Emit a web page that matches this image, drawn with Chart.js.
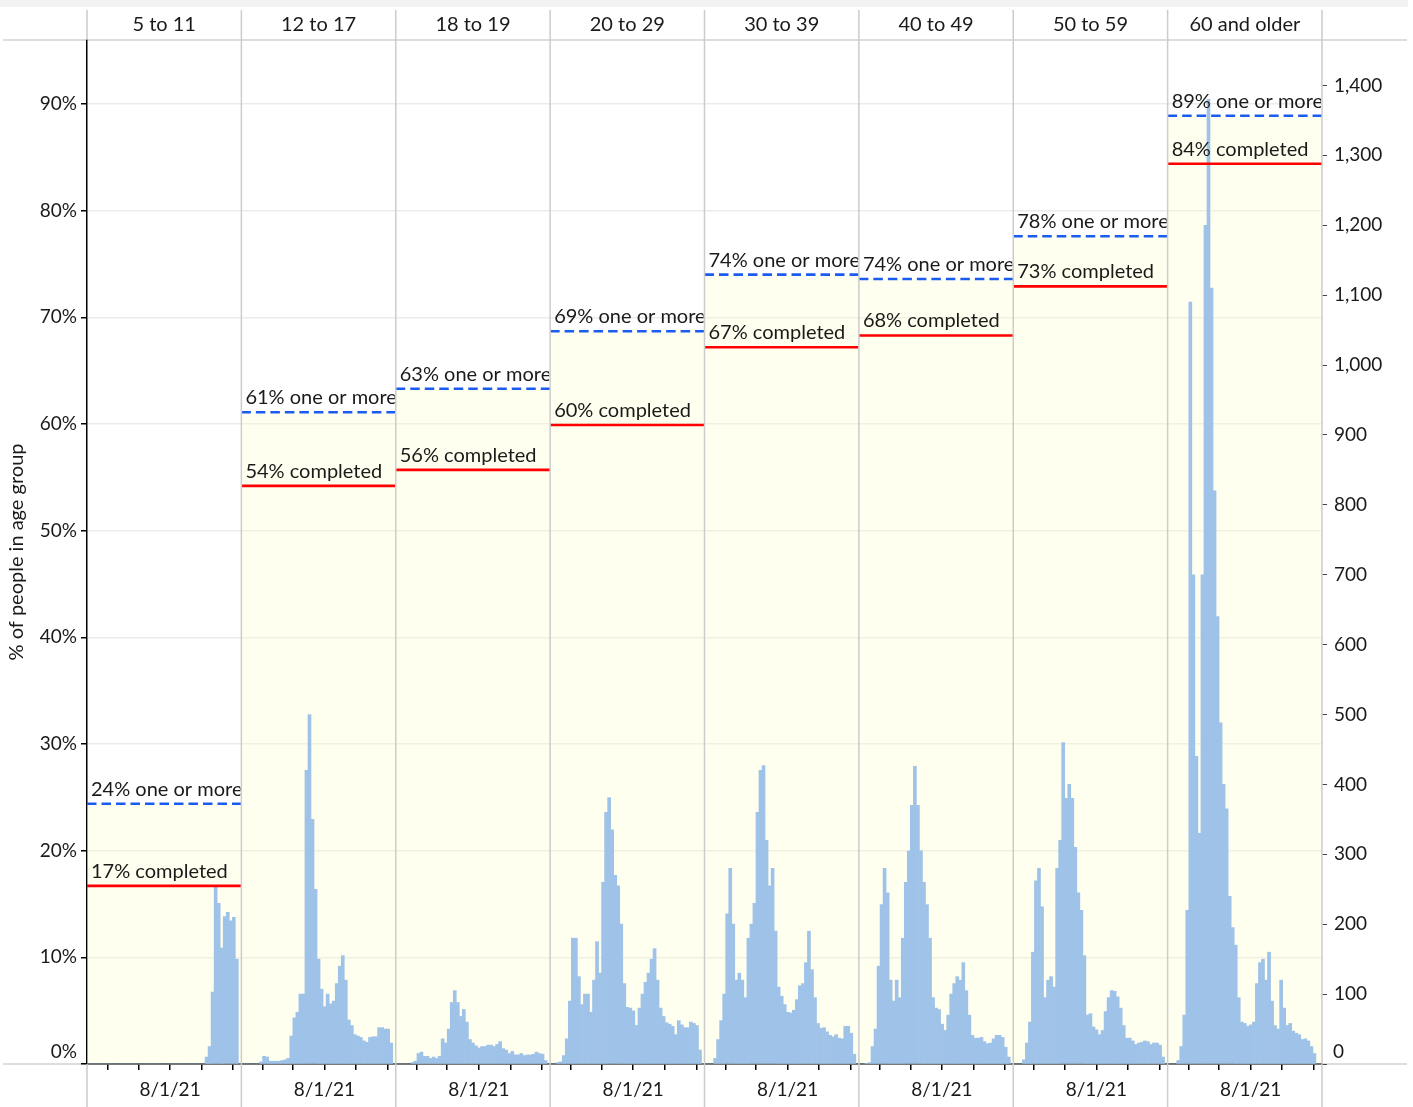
<!DOCTYPE html>
<html>
<head>
<meta charset="utf-8">
<script src="https://cdn.jsdelivr.net/npm/chart.js@4.4.1/dist/chart.umd.min.js"></script>
<style>
  html, body { margin: 0; padding: 0; background: #fff; }
</style>
</head>
<body>
<canvas id="vaxChart" width="1413" height="1107"></canvas>
<script>
const ageGroups = ['5 to 11', '12 to 17', '18 to 19', '20 to 29', '30 to 39', '40 to 49', '50 to 59', '60 and older'];
const oneOrMore = [24.4, 61.1, 63.3, 68.7, 74.0, 73.6, 77.6, 88.9];
const completed = [16.7, 54.2, 55.7, 59.9, 67.2, 68.3, 72.9, 84.4];

const doses5to11 = [0,0,0,0,0,0,0,0,0,0, 0,0,0,0,0,0,0,0,0,0, 0,0,0,0,0,0,0,0,0,0, 0,0,0,0,0,0,0,0,0,10, 25,103,255,230,166,211,217,205,210,150, 0];
const doses12to17 = [0,0,0,0,0,0,3,11,10,4, 4,4,4,5,6,8,40,66,74,100, 100,420,500,350,250,150,107,82,100,86, 90,115,140,155,120,63,55,42,40,38, 33,31,38,39,39,52,52,50,50,30, 0];
const doses18to19 = [0,0,0,0,0,2,4,15,17,11, 11,8,10,8,11,36,30,50,88,105, 88,68,78,60,35,30,26,23,25,25, 27,27,25,28,32,22,20,15,18,13, 13,15,12,13,13,14,17,15,14,5, 0];
const doses20to29 = [0,0,2,3,12,36,90,180,180,125, 85,100,100,74,120,175,130,260,360,381, 335,270,255,200,115,81,80,76,55,80, 100,117,130,150,165,120,80,68,59,57, 54,42,62,56,52,52,60,58,55,20, 0];
const doses30to39 = [0,0,0,8,35,62,100,215,280,200, 120,130,120,95,180,200,230,360,420,427, 320,255,280,190,110,97,85,74,73,77, 92,112,115,145,190,135,95,58,51,52, 46,41,39,42,37,36,54,54,44,14, 0];
const doses40to49 = [0,0,1,2,25,50,140,228,280,245, 120,90,120,95,180,260,305,370,426,370, 305,260,228,180,95,80,78,57,48,70, 100,115,125,120,145,105,70,41,37,37, 38,32,29,30,36,41,41,38,24,10, 0];
const doses50to59 = [0,0,0,6,30,60,160,262,280,225, 95,120,125,110,280,320,460,380,400,380, 310,245,220,155,70,72,53,49,42,48, 75,95,105,104,96,80,55,37,37,33, 28,30,31,33,32,28,30,30,27,10, 0];
const doses60plus = [0,0,0,5,25,70,220,1090,700,440, 330,700,1200,1380,1110,820,640,488,400,365, 240,195,170,95,60,58,54,56,60,115, 145,150,120,160,90,55,50,120,80,55, 58,47,44,42,35,36,33,25,15,0, 0];
const dosesByGroup = [doses5to11, doses12to17, doses18to19, doses20to29, doses30to39, doses40to49, doses50to59, doses60plus];

const panelStart = '12/2/20';
const panelDays = 450;
const tickDates = ['2/1/21', '5/1/21', '8/1/21', '11/1/21', '2/1/22'];
const labeledTick = '8/1/21';

const toDay = s => {
    const [m, d, y] = s.split('/').map(Number);
    const [m0, d0, y0] = panelStart.split('/').map(Number);
    return (Date.UTC(2000 + y, m - 1, d) - Date.UTC(2000 + y0, m0 - 1, d0)) / 86400000;
};
const binDays = panelDays / 51;
const totalDays = panelDays * ageGroups.length;

const doseBars = [];
dosesByGroup.forEach((arr, i) => arr.forEach((v, k) => {
    doseBars.push({ x: i * panelDays + (k + 0.5) * binDays, y: v });
}));

const levelLine = vals => {
    const pts = [];
    vals.forEach((v, i) => {
        pts.push({ x: i * panelDays, y: v });
        pts.push({ x: (i + 1) * panelDays, y: v });
        pts.push({ x: (i + 1) * panelDays, y: null });
    });
    return pts;
};

const textColor = '#1a1a1a';
Chart.defaults.font.family = 'Lato';
Chart.defaults.font.size = 19;
Chart.defaults.color = textColor;

const panelFrame = {
    id: 'panelFrame',
    beforeDraw(chart) {
        const { ctx, chartArea: a } = chart;
        ctx.save();
        ctx.fillStyle = '#f2f2f2';
        ctx.fillRect(0, 0, chart.width - 5, 7);
        ctx.strokeStyle = '#d2d2d2';
        ctx.lineWidth = 1.5;
        ctx.beginPath();
        ctx.moveTo(3, a.top); ctx.lineTo(chart.width - 6, a.top);
        ctx.moveTo(3, a.bottom); ctx.lineTo(a.left, a.bottom);
        ctx.moveTo(a.right, a.bottom); ctx.lineTo(chart.width - 6, a.bottom);
        ctx.stroke();
        ctx.restore();
    },
    afterDatasetsDraw(chart) {
        const { ctx, chartArea: a, scales: { x, y, y1 } } = chart;
        ctx.save();
        ctx.strokeStyle = '#cccccc';
        ctx.lineWidth = 1.5;
        ctx.beginPath();
        for (let i = 0; i <= ageGroups.length; i++) {
            const px = x.getPixelForValue(i * panelDays);
            if (i === 0) {
                ctx.moveTo(px, 10); ctx.lineTo(px, a.top);
                ctx.moveTo(px, a.bottom); ctx.lineTo(px, chart.height);
            } else {
                ctx.moveTo(px, 10); ctx.lineTo(px, chart.height);
            }
        }
        ctx.stroke();

        // zero labels sit a little above the baseline
        ctx.fillStyle = textColor;
        ctx.font = '19px Lato';
        ctx.textBaseline = 'middle';
        ctx.textAlign = 'right';
        ctx.fillText('0%', a.left - 10, y.getPixelForValue(0) - 12);
        ctx.textAlign = 'left';
        ctx.fillText('0', a.right + 11, y1.getPixelForValue(0) - 12);

        ctx.font = '20px Lato';
        ctx.textBaseline = 'alphabetic';
        ageGroups.forEach((g, i) => {
            const l = x.getPixelForValue(i * panelDays);
            const r = x.getPixelForValue((i + 1) * panelDays);
            ctx.save();
            ctx.beginPath();
            ctx.rect(l, a.top, r - l - 1, a.bottom - a.top);
            ctx.clip();
            ctx.fillText(Math.round(oneOrMore[i]) + '% one or more', l + 4, y.getPixelForValue(oneOrMore[i]) - 8);
            ctx.fillText(Math.round(completed[i]) + '% completed', l + 4, y.getPixelForValue(completed[i]) - 8);
            ctx.restore();
        });
        ctx.restore();
    }
};

new Chart(document.getElementById('vaxChart'), {
    type: 'bar',
    data: {
        datasets: [
            {
                type: 'line',
                label: 'one or more (area)',
                data: levelLine(oneOrMore),
                spanGaps: false,
                fill: 'origin',
                backgroundColor: 'rgba(255,255,200,0.28)',
                borderWidth: 0,
                borderColor: 'rgba(0,0,0,0)',
                pointRadius: 0,
                yAxisID: 'y',
                order: 5
            },
            {
                label: 'doses per day',
                data: doseBars,
                backgroundColor: '#9fc3e8',
                borderWidth: 0,
                barPercentage: 1,
                categoryPercentage: 1,
                yAxisID: 'y1',
                order: 3
            },
            {
                type: 'line',
                label: 'completed',
                data: levelLine(completed),
                borderColor: '#ff0000',
                borderWidth: 2.6,
                pointRadius: 0,
                spanGaps: false,
                fill: false,
                yAxisID: 'y',
                order: 1
            },
            {
                type: 'line',
                label: 'one or more',
                data: levelLine(oneOrMore),
                borderColor: '#1a5cf0',
                borderWidth: 2.6,
                borderDash: [9.5, 5],
                pointRadius: 0,
                spanGaps: false,
                fill: false,
                yAxisID: 'y',
                order: 0
            }
        ]
    },
    options: {
        responsive: false,
        animation: false,
        layout: { padding: 0, autoPadding: false },
        plugins: {
            legend: { display: false },
            tooltip: { enabled: false }
        },
        scales: {
            x: {
                type: 'linear',
                position: 'bottom',
                min: 0,
                max: totalDays,
                offset: false,
                afterBuildTicks: scale => {
                    const ticks = [];
                    ageGroups.forEach((g, i) => tickDates.forEach(d => ticks.push({ value: i * panelDays + toDay(d) })));
                    scale.ticks = ticks;
                },
                afterFit: scale => { scale.height = 43; },
                ticks: {
                    autoSkip: false,
                    maxRotation: 0,
                    padding: 8,
                    callback: (v, i) => tickDates[i % tickDates.length] === labeledTick ? labeledTick : ''
                },
                grid: { drawOnChartArea: false, offset: false, tickLength: 6, color: '#000', lineWidth: 1.5 },
                border: { color: '#000', width: 1.5 }
            },
            xTop: {
                type: 'linear',
                position: 'top',
                min: 0,
                max: totalDays,
                offset: false,
                afterBuildTicks: scale => {
                    scale.ticks = ageGroups.map((g, i) => ({ value: (i + 0.5) * panelDays }));
                },
                afterFit: scale => { scale.height = 40; },
                ticks: {
                    autoSkip: false,
                    maxRotation: 0,
                    padding: 3,
                    font: { size: 20 },
                    callback: (v, i) => ageGroups[i]
                },
                grid: { display: false, drawTicks: false },
                border: { display: false }
            },
            y: {
                position: 'left',
                min: 0,
                max: 96,
                afterFit: scale => { scale.width = 87; },
                ticks: {
                    stepSize: 10,
                    includeBounds: false,
                    padding: 4,
                    callback: v => v === 0 ? '' : v + '%'
                },
                grid: { color: '#ebebeb', lineWidth: 1.5, tickColor: '#000', tickLength: 6 },
                border: { color: '#000', width: 1.5 },
                title: {
                    display: true,
                    text: '% of people in age group',
                    font: { size: 20 },
                    padding: { top: 5, bottom: 0 }
                }
            },
            y1: {
                position: 'right',
                min: 0,
                max: 1465,
                afterFit: scale => { scale.width = 91; },
                ticks: {
                    stepSize: 100,
                    includeBounds: false,
                    padding: 7,
                    callback: v => v === 0 ? '' : v.toLocaleString('en-US')
                },
                grid: { drawOnChartArea: false, tickColor: '#444', tickLength: 5 },
                border: { display: false }
            }
        }
    },
    plugins: [panelFrame]
});
</script>
</body>
</html>
